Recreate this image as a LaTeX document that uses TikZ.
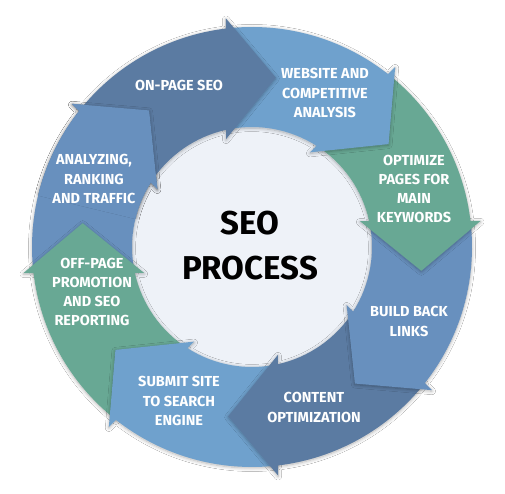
\documentclass[tikz,border=0pt]{standalone}
\usepackage{fontspec}
\newfontfamily\lab{Fira Sans}
\usetikzlibrary{shadows.blur}
\definecolor{cdark}{HTML}{5B7BA2}
\definecolor{cmed}{HTML}{6890BE}
\definecolor{clight}{HTML}{6FA1CD}
\definecolor{cgreen}{HTML}{68A894}
\definecolor{ccore}{HTML}{EEF2F8}
\newcommand{\arrowpath}[1]{%
  \pgfmathsetmacro\ta{96.5-45*#1+0.3}%
  \pgfmathsetmacro\tb{96.5-45*#1+45+0.3}%
  \pgfmathsetmacro\ia{96.5-45*#1+6}%
  \pgfmathsetmacro\ib{96.5-45*#1+45+6}%
  \pgfmathsetmacro\t{96.5-45*#1}%
  \pgfmathsetmacro\tt{96.5-45*#1-14.5}%
  \pgfmathsetmacro\ti{96.5-45*#1+7}%
}
\begin{document}
\begin{tikzpicture}[x=1pt,y=1pt,
  lbl/.style={text=white, align=center, inner sep=0pt,
    font=\lab\bfseries\fontsize{14.5}{19.3}\selectfont},
  title/.style={text=black, align=center, inner sep=0pt,
    font=\lab\bfseries\fontsize{33}{45}\selectfont},
  segshadow/.style={blur shadow={shadow blur steps=10, shadow xshift=0pt,
    shadow yshift=-1pt, shadow opacity=30, shadow blur radius=3.5pt}}]
\useasboundingbox (0,0) rectangle (505,494);
\fill[white] (0,0) rectangle (505,494);
\begin{scope}[shift={(252,247)}]
  % centre disc
  \fill[ccore] (0,0) circle[radius=120];
  % arrows, drawn so that each head lies over the next tail
  \foreach \k/\c in {7/cmed,6/cgreen,5/clight,4/cdark,3/cmed,2/cgreen,1/clight,0/cdark}{
    \arrowpath{\k}
    \fill[\c, segshadow] (\tb:220) arc[start angle=\tb, end angle=\ta, radius=220]
      -- (\t:230) -- (\tt:171) -- (\ti:111) -- (\ia:120)
      arc[start angle=\ia, end angle=\ib, radius=120] -- cycle;
  }
  % close the cycle: head of the last arrow over the tail of the first
  \begin{scope}
    \clip (0,0) -- (166.5:300) -- (116.5:300) -- cycle;
    \arrowpath{7}
    \fill[cmed, segshadow] (\tb:220) arc[start angle=\tb, end angle=\ta, radius=220]
      -- (\t:230) -- (\tt:171) -- (\ti:111) -- (\ia:120)
      arc[start angle=\ia, end angle=\ib, radius=120] -- cycle;
  \end{scope}
\end{scope}
% labels
\node[lbl] (onpage) at (179,409) {ON-PAGE SEO};
\node[lbl] (website) at (325,401) {WEBSITE AND\\COMPETITIVE\\ANALYSIS};
\node[lbl] (optimize) at (414,305) {OPTIMIZE\\PAGES FOR\\MAIN\\KEYWORDS};
\node[lbl] (build) at (409,172.5) {BUILD BACK\\LINKS};
\node[lbl] (content) at (314,86.5) {CONTENT\\OPTIMIZATION};
\node[lbl] (submit) at (179,93) {SUBMIT SITE\\TO SEARCH\\ENGINE};
\node[lbl] (offpage) at (92,202) {OFF-PAGE\\PROMOTION\\AND SEO\\REPORTING};
\node[lbl] (analyzing) at (94,315) {ANALYZING,\\RANKING\\AND TRAFFIC};
\node[title] (seo) at (250,248.5) {SEO\\PROCESS};
\end{tikzpicture}
\end{document}
